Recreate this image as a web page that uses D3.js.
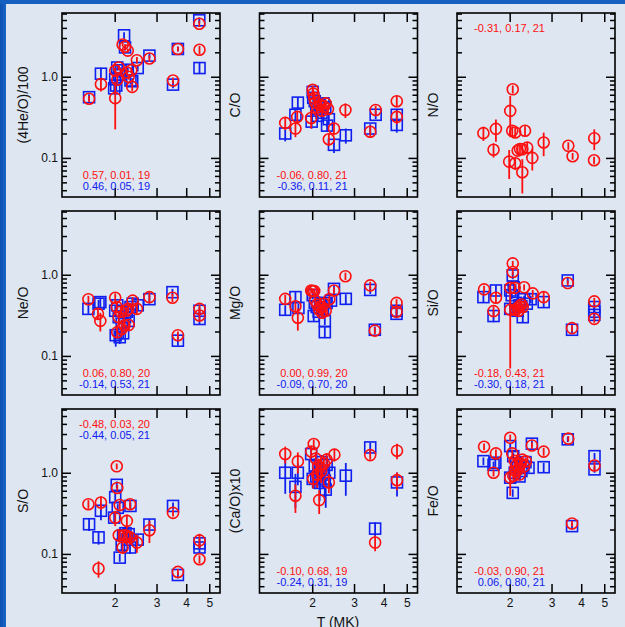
<!DOCTYPE html>
<html><head><meta charset="utf-8">
<script src="https://cdn.jsdelivr.net/npm/d3@7"></script>
<style>
body{margin:0;background:#dde6f1;}
svg{display:block;font-family:"Liberation Sans",Arial,Helvetica,sans-serif;}
</style>
</head><body>
<svg id="chart" width="625" height="627"></svg>
<script>
// ---- data: [T (MK), ratio, error] ----
const heO_red = [[1.56,0.535,0.05],[1.75,0.81,0.15],[2.01,0.545,0.32],[2.01,1.19,0.1],[2.05,0.92,0.1],[2.08,1.3,0.1],[2.16,2.5,0.15],[2.21,2.35,0.15],[2.25,1.13,0.1],[2.27,2.1,0.12],[2.29,1.0,0.08],[2.35,1.2,0.1],[2.37,0.75,0.08],[2.48,1.6,0.15],[2.8,1.68,0.15],[3.52,0.9,0.08],[3.69,2.2,0.15],[4.54,4.5,0.4],[4.55,2.15,0.25]];
const heO_blue = [[1.56,0.56,0.05],[1.75,1.09,0.2],[1.99,0.72,0.1],[2.01,0.93,0.1],[2.03,0.78,0.1],[2.05,1.3,0.1],[2.09,1.05,0.1],[2.12,1.2,0.1],[2.19,3.24,0.3],[2.21,2.3,0.2],[2.27,1.22,0.1],[2.33,0.9,0.1],[2.37,0.88,0.08],[2.5,1.28,0.12],[2.8,1.82,0.15],[3.52,0.8,0.08],[3.69,2.2,0.15],[4.54,4.96,0.4],[4.55,1.28,0.2]];
const cO_red = [[1.54,0.27,0.05],[1.70,0.23,0.05],[1.73,0.32,0.06],[1.98,0.31,0.08],[2.01,0.69,0.08],[2.02,0.62,0.08],[2.04,0.55,0.08],[2.06,0.48,0.06],[2.1,0.42,0.06],[2.16,0.45,0.06],[2.2,0.38,0.05],[2.24,0.43,0.05],[2.28,0.47,0.05],[2.33,0.4,0.05],[2.35,0.17,0.03],[2.47,0.23,0.04],[2.76,0.39,0.08],[3.51,0.21,0.03],[3.7,0.39,0.05],[4.54,0.5,0.08],[4.54,0.32,0.06]];
const cO_blue = [[1.54,0.2,0.04],[1.70,0.34,0.06],[1.74,0.48,0.08],[1.99,0.28,0.05],[2.01,0.65,0.08],[2.02,0.55,0.07],[2.05,0.5,0.06],[2.08,0.4,0.05],[2.11,0.33,0.05],[2.15,0.45,0.05],[2.19,0.36,0.05],[2.23,0.47,0.05],[2.27,0.42,0.05],[2.31,0.25,0.04],[2.35,0.3,0.04],[2.47,0.145,0.03],[2.77,0.19,0.04],[3.51,0.23,0.03],[3.7,0.34,0.04],[4.54,0.34,0.05],[4.54,0.255,0.05]];
const nO_red = [[1.55,0.202,0.04],[1.75,0.228,0.07],[1.71,0.126,0.025],[2.06,0.70,0.08],[2.01,0.38,0.2],[2.05,0.216,0.03],[2.11,0.206,0.03],[2.32,0.216,0.03],[1.99,0.090,0.035],[2.11,0.086,0.015],[2.16,0.123,0.015],[2.21,0.129,0.015],[2.26,0.128,0.02],[2.37,0.134,0.02],[2.26,0.0665,0.03],[2.49,0.100,0.03],[2.78,0.155,0.05],[3.53,0.141,0.015],[3.68,0.105,0.01],[4.54,0.175,0.05],[4.53,0.0936,0.01]];
const neO_red = [[1.55,0.50,0.05],[1.70,0.33,0.05],[1.74,0.27,0.07],[2.01,0.52,0.07],[2.04,0.40,0.06],[2.05,0.196,0.03],[2.08,0.30,0.05],[2.12,0.35,0.05],[2.14,0.215,0.03],[2.2,0.237,0.03],[2.24,0.36,0.04],[2.29,0.24,0.03],[2.28,0.38,0.04],[2.38,0.48,0.05],[2.48,0.38,0.05],[2.8,0.53,0.08],[3.5,0.52,0.06],[3.69,0.18,0.02],[4.55,0.38,0.05],[4.55,0.315,0.04]];
const neO_blue = [[1.55,0.38,0.05],[1.71,0.44,0.05],[1.74,0.46,0.06],[2.01,0.36,0.05],[2.02,0.18,0.05],[2.05,0.42,0.05],[2.08,0.30,0.04],[2.1,0.17,0.03],[2.14,0.25,0.03],[2.17,0.19,0.03],[2.21,0.30,0.04],[2.25,0.35,0.04],[2.29,0.27,0.03],[2.33,0.4,0.04],[2.38,0.44,0.05],[2.5,0.42,0.05],[2.8,0.5,0.06],[3.5,0.61,0.06],[3.69,0.154,0.02],[4.55,0.36,0.04],[4.55,0.285,0.04]];
const mgO_red = [[1.54,0.505,0.06],[1.70,0.41,0.06],[1.74,0.295,0.09],[1.98,0.64,0.05],[2.01,0.63,0.05],[2.04,0.63,0.05],[2.06,0.48,0.05],[2.1,0.43,0.05],[2.14,0.37,0.04],[2.17,0.40,0.04],[2.2,0.34,0.04],[2.24,0.44,0.05],[2.28,0.36,0.04],[2.36,0.5,0.05],[2.47,0.64,0.06],[2.76,0.96,0.1],[3.51,0.74,0.08],[3.67,0.205,0.02],[4.53,0.45,0.05],[4.53,0.35,0.04]];
const mgO_blue = [[1.54,0.37,0.05],[1.70,0.53,0.08],[1.75,0.39,0.05],[2.01,0.56,0.06],[2.03,0.31,0.04],[2.05,0.45,0.05],[2.09,0.40,0.05],[2.13,0.35,0.04],[2.18,0.43,0.05],[2.22,0.38,0.04],[2.26,0.196,0.03],[2.26,0.27,0.03],[2.3,0.45,0.05],[2.4,0.48,0.05],[2.47,0.67,0.07],[2.77,0.505,0.07],[3.51,0.65,0.07],[3.67,0.21,0.02],[4.53,0.36,0.04],[4.53,0.33,0.04]];
const siO_red = [[1.56,0.66,0.07],[1.75,0.52,0.08],[1.71,0.356,0.05],[2.06,1.38,0.1],[2.06,1.08,0.1],[2.01,0.69,0.06],[2.01,0.37,0.3],[2.1,0.69,0.06],[2.3,0.70,0.06],[2.5,0.59,0.06],[2.78,0.53,0.08],[3.51,0.79,0.06],[3.66,0.22,0.02],[4.54,0.47,0.05],[4.54,0.286,0.03],[2.12,0.37,0.04],[2.16,0.39,0.04],[2.2,0.41,0.04],[2.24,0.43,0.04],[2.18,0.36,0.04],[2.27,0.40,0.04]];
const siO_blue = [[1.55,0.53,0.08],[1.75,0.64,0.1],[1.71,0.31,0.05],[2.06,0.98,0.1],[2.01,0.64,0.07],[2.04,0.56,0.06],[2.01,0.38,0.05],[2.08,0.7,0.07],[2.12,0.45,0.05],[2.16,0.36,0.04],[2.2,0.42,0.04],[2.27,0.30,0.04],[2.3,0.5,0.05],[2.36,0.44,0.05],[2.45,0.5,0.05],[2.78,0.46,0.06],[3.51,0.85,0.07],[3.66,0.21,0.02],[4.54,0.40,0.05],[4.54,0.35,0.04],[4.54,0.32,0.04]];
const sO_red = [[1.55,0.41,0.05],[1.75,0.43,0.08],[1.71,0.066,0.015],[2.04,1.2,0.1],[2.05,0.65,0.06],[2.01,0.28,0.06],[2.1,0.40,0.05],[2.32,0.41,0.05],[2.25,0.255,0.05],[2.08,0.17,0.03],[2.16,0.12,0.02],[2.25,0.167,0.03],[2.32,0.16,0.03],[2.2,0.17,0.03],[2.48,0.138,0.035],[2.8,0.196,0.06],[3.52,0.32,0.03],[3.69,0.06,0.005],[4.55,0.147,0.03],[4.55,0.086,0.01]];
const sO_blue = [[1.56,0.232,0.04],[1.71,0.16,0.03],[1.75,0.34,0.08],[2.01,0.5,0.06],[2.04,0.71,0.07],[1.99,0.28,0.04],[2.06,0.37,0.04],[2.1,0.09,0.01],[2.14,0.13,0.02],[2.17,0.17,0.02],[2.22,0.18,0.02],[2.26,0.15,0.02],[2.29,0.175,0.02],[2.32,0.12,0.02],[2.33,0.39,0.04],[2.5,0.15,0.02],[2.8,0.23,0.04],[3.52,0.39,0.04],[3.69,0.055,0.005],[4.55,0.12,0.02],[4.55,0.135,0.02]];
const caO_red = [[1.54,1.70,0.4],[1.74,1.38,0.4],[1.70,0.52,0.2],[2.03,2.26,0.3],[1.98,1.83,0.3],[2.02,0.84,0.2],[2.07,1.5,0.3],[2.1,0.95,0.3],[2.12,1.2,0.3],[2.14,0.46,0.15],[2.18,1.05,0.3],[2.24,1.3,0.3],[2.3,1.45,0.3],[2.35,0.76,0.2],[2.48,1.67,0.3],[3.51,1.65,0.2],[3.68,0.138,0.03],[4.55,1.87,0.4],[4.55,0.81,0.2]];
const caO_blue = [[1.54,1.0,0.45],[1.70,0.67,0.3],[1.74,1.0,0.3],[1.98,1.70,0.3],[2.01,0.84,0.2],[2.05,1.2,0.3],[2.08,0.9,0.25],[2.12,1.1,0.3],[2.15,0.75,0.3],[2.19,1.35,0.3],[2.22,0.95,0.3],[2.26,0.8,0.3],[2.28,0.62,0.25],[2.3,1.25,0.3],[2.36,1.0,0.25],[2.77,0.92,0.4],[3.51,2.05,0.3],[3.68,0.205,0.04],[4.55,0.76,0.25]];
const feO_red = [[1.56,2.09,0.2],[1.75,1.73,0.2],[1.71,1.0,0.1],[2.01,2.7,0.25],[2.05,1.73,0.2],[2.01,0.87,0.35],[2.07,0.92,0.1],[2.1,1.4,0.15],[2.12,1.05,0.12],[2.14,1.25,0.15],[2.18,1.1,0.12],[2.2,0.95,0.1],[2.22,1.3,0.15],[2.26,1.45,0.15],[2.3,1.2,0.12],[2.34,1.38,0.15],[2.48,2.17,0.2],[2.78,1.82,0.2],[3.53,2.63,0.2],[3.66,0.237,0.02],[4.55,1.23,0.15]];
const feO_blue = [[1.55,1.39,0.15],[1.74,1.33,0.15],[1.71,1.25,0.12],[2.01,2.13,0.2],[2.01,0.87,0.1],[2.06,0.565,0.06],[2.07,1.6,0.15],[2.1,1.0,0.1],[2.13,1.3,0.12],[2.17,1.15,0.12],[2.2,0.9,0.1],[2.24,1.05,0.1],[2.28,1.2,0.12],[2.33,1.35,0.12],[2.4,1.15,0.12],[2.48,2.28,0.2],[2.78,1.17,0.15],[3.51,2.58,0.2],[3.66,0.22,0.02],[4.55,1.6,0.15],[4.55,1.1,0.1]];

const panelLabels = ["(4He/O)/100","C/O","N/O","Ne/O","Mg/O","Si/O","S/O","(Ca/O)x10","Fe/O"];
const redStats  = ["0.57, 0.01, 19","-0.06, 0.80, 21","-0.31, 0.17, 21","0.06, 0.80, 20","0.00, 0.99, 20","-0.18, 0.43, 21","-0.48, 0.03, 20","-0.10, 0.68, 19","-0.03, 0.90, 21"];
const blueStats = ["0.46, 0.05, 19","-0.36, 0.11, 21",null,"-0.14, 0.53, 21","-0.09, 0.70, 20","-0.30, 0.18, 21","-0.44, 0.05, 21","-0.24, 0.31, 19","0.06, 0.80, 21"];
const statsAtTop = [false,false,true,false,false,false,true,false,false];
const redSeries  = [heO_red,cO_red,nO_red,neO_red,mgO_red,siO_red,sO_red,caO_red,feO_red];
const blueSeries = [heO_blue,cO_blue,[],neO_blue,mgO_blue,siO_blue,sO_blue,caO_blue,feO_blue];

const xDomain = [1.2, 5.55];
const yDomain = [0.033, 6.1];
const xTicks = [2,3,4,5];
const yMajor = [0.1,1];
const yMinor = [0.04,0.05,0.06,0.07,0.08,0.09,0.2,0.3,0.4,0.5,0.6,0.7,0.8,0.9,2,3,4,5,6];
const xTitle = "T (MK)";

// ---- drawing ----
const RED = "#ff1010", BLUE = "#1020f0";
const svg = d3.select("#chart");
svg.append("rect").attr("width",625).attr("height",627).attr("fill","#dde6f1");
const grad = svg.append("defs").append("linearGradient").attr("id","lg").attr("x1",0).attr("x2",1);
grad.append("stop").attr("offset","0%").attr("stop-color","#0b4fb0");
grad.append("stop").attr("offset","100%").attr("stop-color","#1a66c8");
svg.append("rect").attr("x",0).attr("y",0).attr("width",6).attr("height",627).attr("fill","url(#lg)");
svg.append("rect").attr("x",0).attr("y",0).attr("width",625).attr("height",4).attr("fill","#1560c0");

const W = 158, H = 184;
panelLabels.forEach((lab, i) => {
  const col = i % 3, row = Math.floor(i / 3);
  const left = 62 + col * 197.5, top = 13 + row * 198;
  const x = d3.scaleLog().domain(xDomain).range([left, left + W]);
  const y = d3.scaleLog().domain(yDomain).range([top + H, top]);
  const g = svg.append("g");

  // axes (ticks pointing inward)
  const styleAxis = sel => { sel.select(".domain").remove(); sel.selectAll("line").attr("stroke","#000").attr("stroke-width",1.5); sel.selectAll("text").attr("fill","#111").style("font-size","12px").style("font-family",'"Liberation Sans",Arial,sans-serif'); };
  g.append("g").attr("transform",`translate(${left},0)`)
    .call(d3.axisLeft(y).tickValues(yMajor).tickSize(-9).tickPadding(4).tickFormat(col===0 ? d3.format(".1f") : () => ""))
    .call(styleAxis);
  g.append("g").attr("transform",`translate(${left},0)`)
    .call(d3.axisLeft(y).tickValues(yMinor).tickSize(-5).tickFormat(() => "")).call(styleAxis);
  g.append("g").attr("transform",`translate(${left+W},0)`)
    .call(d3.axisRight(y).tickValues(yMajor).tickSize(-9).tickFormat(() => "")).call(styleAxis);
  g.append("g").attr("transform",`translate(${left+W},0)`)
    .call(d3.axisRight(y).tickValues(yMinor).tickSize(-5).tickFormat(() => "")).call(styleAxis);
  g.append("g").attr("transform",`translate(0,${top+H})`)
    .call(d3.axisBottom(x).tickValues(xTicks).tickSize(-9).tickPadding(5).tickFormat(row===2 ? d3.format("d") : () => ""))
    .call(styleAxis);
  g.append("g").attr("transform",`translate(0,${top})`)
    .call(d3.axisTop(x).tickValues(xTicks).tickSize(-9).tickFormat(() => "")).call(styleAxis);

  g.append("rect").attr("x",left).attr("y",top).attr("width",W).attr("height",H)
    .attr("fill","none").attr("stroke","#000").attr("stroke-width",1.6);

  // y label
  const lx = left - (col === 0 ? 39 : 24), ly = top + H / 2;
  g.append("text").attr("transform",`translate(${lx},${ly}) rotate(-90)`)
    .attr("text-anchor","middle").attr("dy","0.35em").style("font-size","14px").attr("fill","#111").text(lab);

  // data
  const clamp = v => Math.max(yDomain[0], Math.min(yDomain[1], v));
  const drawSeries = (data, color, shape) => {
    const sg = g.append("g");
    sg.selectAll("line.err").data(data).join("line")
      .attr("x1", d => x(d[0])).attr("x2", d => x(d[0]))
      .attr("y1", d => y(clamp(d[1] - d[2]))).attr("y2", d => y(clamp(d[1] + d[2])))
      .attr("stroke", color).attr("stroke-width", 1.8);
    if (shape === "circle") {
      sg.selectAll("circle").data(data).join("circle")
        .attr("cx", d => x(d[0])).attr("cy", d => y(d[1])).attr("r", 5.5)
        .attr("fill","none").attr("stroke", color).attr("stroke-width", 1.6);
    } else {
      sg.selectAll("rect").data(data).join("rect")
        .attr("x", d => x(d[0]) - 5.5).attr("y", d => y(d[1]) - 5.5)
        .attr("width", 11).attr("height", 11)
        .attr("fill","none").attr("stroke", color).attr("stroke-width", 1.6);
    }
  };
  drawSeries(blueSeries[i], BLUE, "square");
  drawSeries(redSeries[i], RED, "circle");

  // stats text
  const tx = left + 88;
  const ry = statsAtTop[i] ? top + 15 : top + H - 22;
  const by = statsAtTop[i] ? top + 26 : top + H - 10.5;
  g.append("text").attr("x",tx).attr("y",ry).attr("dy","0.35em").attr("text-anchor","end")
    .style("font-size","11px").attr("fill",RED).text(redStats[i]);
  if (blueStats[i]) g.append("text").attr("x",tx).attr("y",by).attr("dy","0.35em").attr("text-anchor","end")
    .style("font-size","11px").attr("fill",BLUE).text(blueStats[i]);
});

svg.append("text").attr("x",338).attr("y",627).attr("text-anchor","middle")
  .style("font-size","14px").attr("fill","#111").text(xTitle);
</script>
</body></html>
